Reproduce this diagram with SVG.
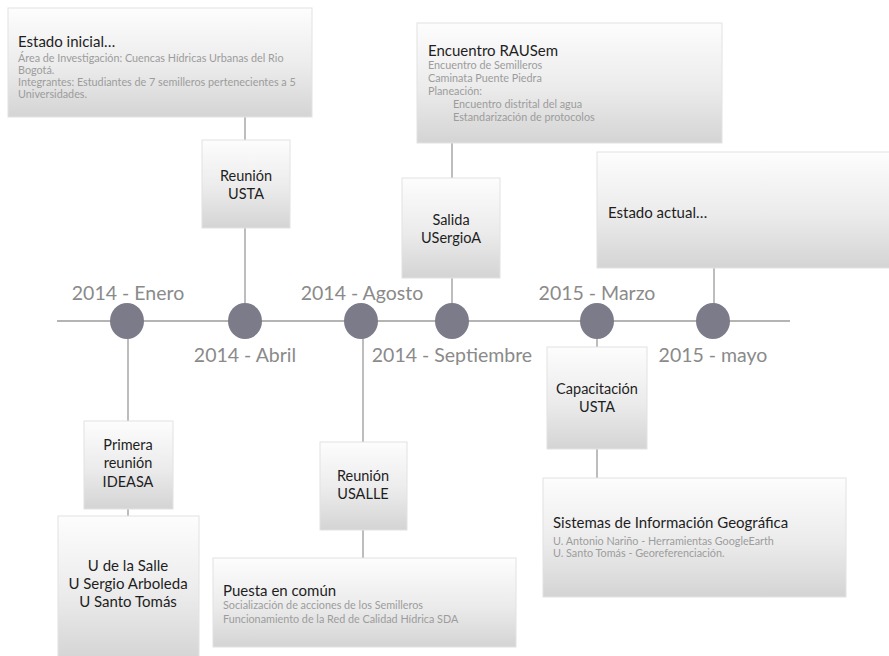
<svg xmlns="http://www.w3.org/2000/svg" width="889" height="656" viewBox="0 0 889 656">
<defs>
<linearGradient id="g" x1="0" y1="0" x2="0" y2="1">
<stop offset="0" stop-color="#fdfdfd"/>
<stop offset="0.55" stop-color="#ebebeb"/>
<stop offset="1" stop-color="#d4d4d4"/>
</linearGradient>
<style>
.box{fill:url(#g);stroke:#e2e2e2;stroke-width:1}
.conn{stroke:#9a9a9a;stroke-width:1.3;fill:none}
.axis{stroke:#b4b4b4;stroke-width:2}
.dot{fill:#7b7b89}
.date{font-family:Lato,"Open Sans",sans-serif;font-size:19.5px;fill:#8a8a8a;text-anchor:middle}
.lbl{font-family:Lato,"Open Sans",sans-serif;font-size:14.5px;fill:#1e1e1e;text-anchor:middle}
.ttl{font-family:Lato,"Open Sans",sans-serif;font-size:15px;fill:#1e1e1e}
.sub{font-family:Lato,"Open Sans",sans-serif;font-size:10.8px;fill:#9c9c9c}
</style>
</defs>
<rect width="889" height="656" fill="#ffffff"/>
<g id="connectors">
<line class="axis" x1="57" y1="321" x2="790" y2="321"/>
<line class="conn" x1="245" y1="117" x2="245" y2="321"/>
<line class="conn" x1="128" y1="321" x2="128" y2="516"/>
<line class="conn" x1="363" y1="321" x2="363" y2="558"/>
<line class="conn" x1="452" y1="143" x2="452" y2="321"/>
<line class="conn" x1="597" y1="321" x2="597" y2="478"/>
<line class="conn" x1="714" y1="268" x2="714" y2="321"/>
</g>
<g id="timeline">
<ellipse class="dot" cx="127" cy="321" rx="17" ry="18"/>
<ellipse class="dot" cx="245" cy="321" rx="17" ry="18"/>
<ellipse class="dot" cx="361" cy="321" rx="17" ry="18"/>
<ellipse class="dot" cx="452" cy="321" rx="17" ry="18"/>
<ellipse class="dot" cx="597" cy="321" rx="17" ry="18"/>
<ellipse class="dot" cx="713" cy="321" rx="17" ry="18"/>
<text class="date" x="128" y="300">2014 - Enero</text>
<text class="date" x="245" y="362">2014 - Abril</text>
<text class="date" x="362" y="300">2014 - Agosto</text>
<text class="date" x="452" y="362">2014 - Septiembre</text>
<text class="date" x="597" y="300">2015 - Marzo</text>
<text class="date" x="713" y="362">2015 - mayo</text>
</g>
<g id="estado-inicial">
<rect class="box" x="8" y="8" width="304" height="109"/>
<text class="ttl" x="18" y="47">Estado inicial…</text>
<text class="sub" x="18" y="62">Área de Investigación: Cuencas Hídricas Urbanas del Rio</text>
<text class="sub" x="18" y="74">Bogotá.</text>
<text class="sub" x="18" y="86">Integrantes: Estudiantes de 7 semilleros pertenecientes a 5</text>
<text class="sub" x="18" y="98">Universidades.</text>
</g>
<g id="reunion-usta">
<rect class="box" x="202" y="140" width="88" height="88"/>
<text class="lbl" x="246" y="181">Reunión</text>
<text class="lbl" x="246" y="199">USTA</text>
</g>
<g id="encuentro-rausem">
<rect class="box" x="417" y="23" width="305" height="120"/>
<text class="ttl" x="428" y="56">Encuentro RAUSem</text>
<text class="sub" x="428" y="69">Encuentro de Semilleros</text>
<text class="sub" x="428" y="82">Caminata Puente Piedra</text>
<text class="sub" x="428" y="95">Planeación:</text>
<text class="sub" x="453" y="108">Encuentro distrital del agua</text>
<text class="sub" x="453" y="121">Estandarización de protocolos</text>
</g>
<g id="salida-usergioa">
<rect class="box" x="402" y="178" width="98" height="100"/>
<text class="lbl" x="451" y="225">Salida</text>
<text class="lbl" x="451" y="243">USergioA</text>
</g>
<g id="estado-actual">
<rect class="box" x="597" y="152" width="295" height="116"/>
<text class="ttl" x="608" y="218">Estado actual…</text>
</g>
<g id="primera-reunion">
<rect class="box" x="84" y="421" width="89" height="88"/>
<text class="lbl" x="128" y="450">Primera</text>
<text class="lbl" x="128" y="468">reunión</text>
<text class="lbl" x="128" y="487">IDEASA</text>
</g>
<g id="universidades">
<rect class="box" x="58" y="516" width="141" height="145"/>
<text class="ttl" x="128" y="571" text-anchor="middle">U de la Salle</text>
<text class="ttl" x="128" y="589" text-anchor="middle">U Sergio Arboleda</text>
<text class="ttl" x="128" y="607" text-anchor="middle">U Santo Tomás</text>
</g>
<g id="reunion-usalle">
<rect class="box" x="320" y="442" width="87" height="88"/>
<text class="lbl" x="363" y="481">Reunión</text>
<text class="lbl" x="363" y="499">USALLE</text>
</g>
<g id="puesta-en-comun">
<rect class="box" x="213" y="558" width="303" height="89"/>
<text class="ttl" x="223" y="596">Puesta en común</text>
<text class="sub" x="223" y="609">Socialización de acciones de los Semilleros</text>
<text class="sub" x="223" y="623">Funcionamiento de la Red de Calidad Hídrica SDA</text>
</g>
<g id="capacitacion-usta">
<rect class="box" x="547" y="347" width="100" height="102"/>
<text class="lbl" x="597" y="394">Capacitación</text>
<text class="lbl" x="597" y="412">USTA</text>
</g>
<g id="sig">
<rect class="box" x="543" y="478" width="303" height="119"/>
<text class="ttl" x="553" y="528">Sistemas de Información Geográfica</text>
<text class="sub" x="553" y="545">U. Antonio Nariño - Herramientas GoogleEarth</text>
<text class="sub" x="553" y="557">U. Santo Tomás - Georeferenciación.</text>
</g>
</svg>
